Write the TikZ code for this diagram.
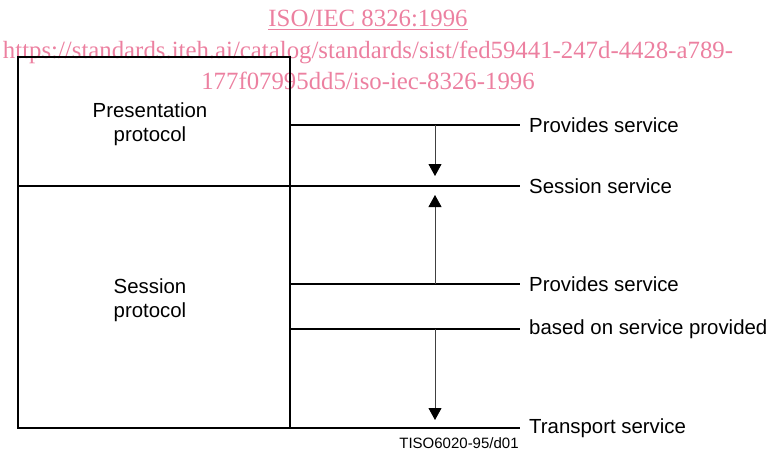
\documentclass[tikz,border=0pt]{standalone}
\usepackage{fontspec}
\setmainfont{Liberation Serif}
\setsansfont{Liberation Sans}
\usepackage{tikz}
\usetikzlibrary{positioning,arrows.meta}
\usepackage{xcolor}
\definecolor{wmpink}{RGB}{236,128,160}

\begin{document}
\begin{tikzpicture}[x=1pt,y=-1pt,
	box/.style={draw, line width=2.8pt, outer sep=0pt, inner sep=0pt, minimum width=272pt},
	thk/.style={line width=2.8pt},
	arr/.style={line width=0.8pt, draw=black!75, -{Triangle[length=12pt,width=13pt,color=black]}},
	lbl/.style={font=\sffamily\fontsize{20.4}{24}\selectfont, inner sep=0pt},
	txt/.style={font=\sffamily\fontsize{20.4}{24}\selectfont, align=center, inner sep=0pt},
	wmark/.style={font=\fontsize{24.8}{28}\selectfont, text=wmpink, inner sep=0pt, anchor=base},
	figid/.style={font=\sffamily\fontsize{15}{18}\selectfont, inner sep=0pt}]
\useasboundingbox (0,0) rectangle (768,455);
\node[wmark] (wm1) at (368,27) {\underline{ISO/IEC 8326:1996}};
\node[wmark] (wm2) at (368,58) {https://standards.iteh.ai/catalog/standards/sist/fed59441-247d-4428-a789-};
\node[wmark] (wm3) at (368,89) {177f07995dd5/iso-iec-8326-1996};
\node[box, anchor=north west, minimum height=129pt] (pres) at (18,57) {};
\node[box, anchor=north, minimum height=242pt] (sess) at (pres.south) {};
\node[txt] (prestxt) at ([xshift=-4pt,yshift=-3pt]pres.center) {Presentation\\protocol};
\node[txt] (sesstxt) at ([xshift=-4pt,yshift=7pt]sess.center) {Session\\protocol};
\coordinate (e1) at (520,125);
\coordinate (e2) at (520,186);
\coordinate (e3) at (520,284);
\coordinate (e4) at (520,329);
\coordinate (e5) at (520,428);
\node[lbl, right=9pt of e1] (ps1) {Provides service};
\node[lbl, right=9pt of e2] (ss) {Session service};
\node[lbl, right=9pt of e3] (ps2) {Provides service};
\node[lbl, right=9pt of e4] (bs) {based on service provided};
\node[lbl, right=9pt of e5] (ts) {Transport service};
\draw[thk] (pres.east |- e1) -- (e1);
\draw[thk] (pres.south west) -- (e2);
\draw[thk] (sess.east |- e3) -- (e3);
\draw[thk] (sess.east |- e4) -- (e4);
\draw[thk] (sess.south west) -- (e5);
\coordinate (ax) at (435,0);
\coordinate (t1) at (435,176);
\coordinate (t2) at (435,195);
\coordinate (t3) at (435,420);
\draw[arr] (ax |- e1) -- (t1);
\draw[arr] (ax |- e3) -- (t2);
\draw[arr] (ax |- e4) -- (t3);
\node[figid] (fid) at (459,443) {TISO6020-95/d01};
\end{tikzpicture}
\end{document}
